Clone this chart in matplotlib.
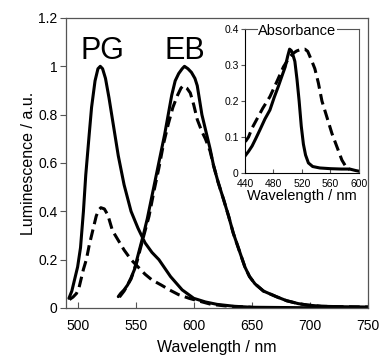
import matplotlib
matplotlib.use("Agg")
import matplotlib.pyplot as plt

plt.rcParams['font.family'] = ['Liberation Sans', 'DejaVu Sans']

# ---- main panel data (wavelength nm, luminescence a.u.) ----
pg_solid_x = [492.5, 495, 497, 500, 502.5, 505, 507, 510, 512, 515, 517.5, 519.5, 521.5, 524, 527, 530,
              535, 540, 546, 552, 558, 564, 570, 580, 590, 600, 610, 620, 635, 650, 700, 750]
pg_solid_y = [0.04, 0.07, 0.11, 0.17, 0.25, 0.40, 0.55, 0.72, 0.83, 0.94, 0.99, 1.0, 0.99, 0.95, 0.87, 0.78,
              0.63, 0.51, 0.40, 0.33, 0.27, 0.23, 0.20, 0.13, 0.075, 0.04, 0.025, 0.015, 0.007, 0.003, 0.001, 0.0]

pg_dash_x = [493, 496, 499, 501, 503, 505, 507.5, 510, 513, 516, 518, 520, 523, 526, 530, 535, 540, 546,
             552, 558, 564, 572, 579, 587, 596, 605, 615, 630, 650]
pg_dash_y = [0.035, 0.045, 0.06, 0.08, 0.12, 0.16, 0.20, 0.26, 0.32, 0.38, 0.405, 0.415, 0.41, 0.385, 0.32,
             0.28, 0.24, 0.20, 0.17, 0.14, 0.116, 0.095, 0.075, 0.055, 0.04, 0.028, 0.015, 0.007, 0.003]

eb_solid_x = [535, 537, 540, 543, 546, 549, 551, 554, 557, 560, 563, 566, 569, 572, 575, 578, 581, 584,
              587, 590, 592, 595, 598, 601, 603, 605, 607, 610, 614, 617, 621, 625.6, 630, 634, 639,
              644, 648, 652.7, 660, 671, 680, 690, 698, 710, 730, 750]
eb_solid_y = [0.047, 0.06, 0.075, 0.095, 0.125, 0.16, 0.2, 0.255, 0.31, 0.37, 0.44, 0.51, 0.58, 0.65,
              0.72, 0.80, 0.88, 0.94, 0.97, 0.99, 1.0, 0.99, 0.975, 0.95, 0.92, 0.86, 0.80, 0.74, 0.66,
              0.59, 0.52, 0.45, 0.38, 0.31, 0.24, 0.17, 0.13, 0.10, 0.07, 0.047, 0.03, 0.018, 0.012,
              0.007, 0.005, 0.004]

eb_dash_x = [536, 540, 546, 551, 557, 561.5, 566, 570, 574, 578, 582, 586, 589, 591, 594, 597, 600, 603,
             607, 610, 614, 617, 621, 625.6, 630, 634, 639, 644, 648, 652.7, 660, 671, 680, 690, 698,
             710, 730, 750]
eb_dash_y = [0.045, 0.07, 0.12, 0.19, 0.30, 0.38, 0.49, 0.58, 0.68, 0.76, 0.83, 0.88, 0.91, 0.92, 0.91,
             0.89, 0.84, 0.78, 0.73, 0.70, 0.65, 0.59, 0.52, 0.45, 0.38, 0.31, 0.24, 0.17, 0.13, 0.10,
             0.07, 0.047, 0.03, 0.018, 0.012, 0.007, 0.005, 0.004]

# ---- inset data (wavelength nm, absorbance) ----
abs_solid_x = [440, 445, 450, 455, 461, 468, 475, 481, 486.7, 492, 496.5, 500, 502.6, 505, 507, 510, 513,
               516, 519, 522, 525, 529, 535, 545, 560, 575, 587, 595, 600]
abs_solid_y = [0.047, 0.06, 0.075, 0.095, 0.12, 0.15, 0.175, 0.21, 0.24, 0.27, 0.295, 0.325, 0.344, 0.34,
               0.33, 0.31, 0.26, 0.20, 0.13, 0.08, 0.05, 0.028, 0.018, 0.014, 0.012, 0.011, 0.011,
               0.007, 0.005]

abs_dash_x = [440.5, 445, 450, 456, 465, 475, 485, 494, 503, 508, 512.6, 518, 524, 528, 533, 538, 543,
              548, 555, 562, 569, 576, 583, 587]
abs_dash_y = [0.087, 0.1, 0.125, 0.147, 0.18, 0.212, 0.255, 0.295, 0.323, 0.333, 0.339, 0.343, 0.344,
              0.338, 0.315, 0.29, 0.25, 0.20, 0.155, 0.11, 0.073, 0.036, 0.013, 0.01]

main_xticks = [500, 550, 600, 650, 700, 750]
main_yticks = [0, 0.2, 0.4, 0.6, 0.8, 1.0, 1.2]
main_ytick_labels = ["0", "0.2", "0.4", "0.6", "0.8", "1", "1.2"]
inset_xticks = [440, 480, 520, 560, 600]
inset_yticks = [0, 0.1, 0.2, 0.3, 0.4]
inset_ytick_labels = ["0", "0.1", "0.2", "0.3", "0.4"]

fig = plt.figure(figsize=(3.8, 3.57), dpi=100)
ax = fig.add_axes([0.1737, 0.1373, 0.7947, 0.8123])

lw = 2.2
dash = (0, (3.5, 1.8))
ax.plot(pg_solid_x, pg_solid_y, color='black', lw=lw, solid_capstyle='round')
ax.plot(pg_dash_x, pg_dash_y, color='black', lw=lw, linestyle=dash)
ax.plot(eb_solid_x, eb_solid_y, color='black', lw=lw, solid_capstyle='round')
ax.plot(eb_dash_x, eb_dash_y, color='black', lw=lw, linestyle=dash)

ax.set_xlim(490, 750)
ax.set_ylim(0, 1.2)
ax.set_xticks(main_xticks)
ax.set_yticks(main_yticks)
ax.set_yticklabels(main_ytick_labels)
ax.tick_params(axis='x', direction='in', length=4, width=0.8, color='#555555', labelsize=10, pad=8)
ax.tick_params(axis='y', direction='out', length=4, width=0.8, color='#555555', labelsize=10, pad=2)
for s in ax.spines.values():
    s.set_color('#555555')
    s.set_linewidth(0.9)
ax.set_xlabel("Wavelength / nm", fontsize=11.5, labelpad=5)
ax.set_ylabel("Luminescence / a.u.", fontsize=11.5, labelpad=2)

ax.text(521, 1.065, "PG", fontsize=22, ha='center', va='center')
ax.text(592.5, 1.065, "EB", fontsize=22, ha='center', va='center')

# ---- inset ----
ins = fig.add_axes([0.6447, 0.5154, 0.3, 0.4034])
ins.plot(abs_solid_x, abs_solid_y, color='black', lw=lw)
ins.plot(abs_dash_x, abs_dash_y, color='black', lw=lw, linestyle=dash)
ins.set_xlim(440, 600)
ins.set_ylim(0, 0.4)
ins.set_xticks(inset_xticks)
ins.set_yticks(inset_yticks)
ins.set_yticklabels(inset_ytick_labels)
ins.tick_params(axis='x', direction='in', length=3, width=0.8, color='#555555', labelsize=7.5, pad=4)
ins.tick_params(axis='y', direction='out', length=3, width=0.8, color='#555555', labelsize=7.5, pad=1.5)
ins.spines['left'].set_color('black')
ins.spines['bottom'].set_color('black')
ins.spines['top'].set_color('#555555')
ins.spines['right'].set_color('#555555')
for s in ins.spines.values():
    s.set_linewidth(0.8)
ins.set_xlabel("Wavelength / nm", fontsize=10.5, labelpad=0)
ins.text(0.46, 0.985, "Absorbance", transform=ins.transAxes, fontsize=10.5, ha='center', va='center',
         bbox=dict(facecolor='white', edgecolor='none', pad=0.5))

fig.savefig("out.png", dpi=100)
